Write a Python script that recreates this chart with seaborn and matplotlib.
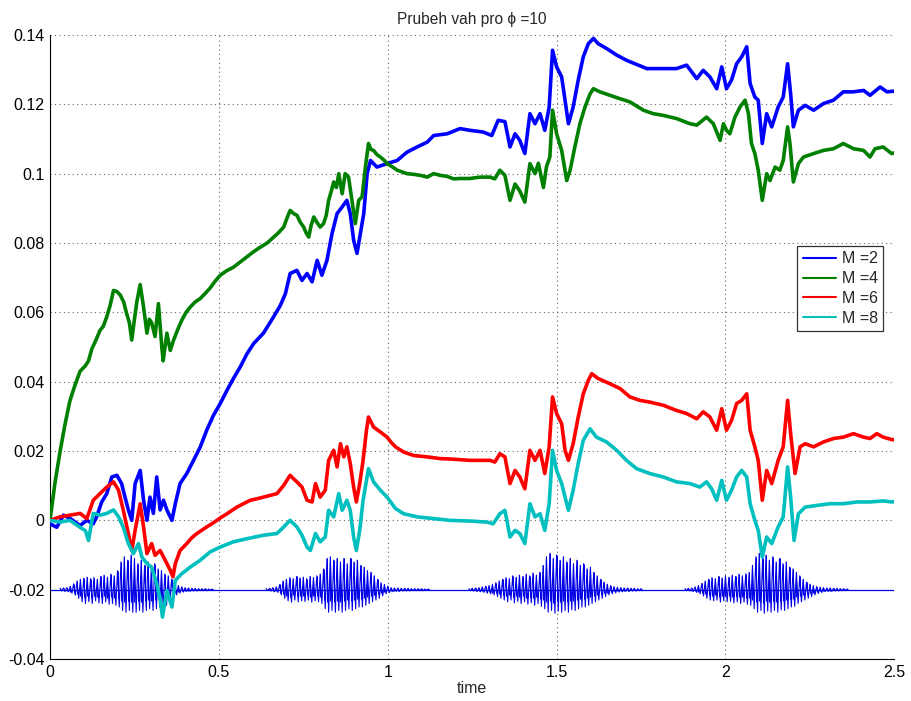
import numpy as np
import pandas as pd
import matplotlib
matplotlib.use("Agg")
import matplotlib.pyplot as plt
import seaborn as sns
from matplotlib.lines import Line2D

# ---------------- data ----------------
m2_points = [(0, -0.001), (0.02, -0.002), (0.04, 0.0015), (0.06, 0.0005), (0.089, -0.0015), (0.109, 0.0),
             (0.128, -0.001), (0.138, 0.001), (0.153, 0.0053), (0.168, 0.0077), (0.183, 0.0125), (0.198, 0.013),
             (0.212, 0.0106), (0.222, 0.0067), (0.232, 0.003), (0.242, 0.0), (0.252, 0.0106), (0.267, 0.0144),
             (0.277, 0.0058), (0.287, 0.0), (0.296, 0.0067), (0.306, 0.002), (0.316, 0.0125), (0.326, 0.003),
             (0.336, 0.0058), (0.346, 0.003), (0.361, 0.0), (0.371, 0.0048), (0.385, 0.0106), (0.405, 0.0135),
             (0.425, 0.0173), (0.445, 0.0212), (0.464, 0.026), (0.484, 0.0303), (0.504, 0.0337), (0.524, 0.0375),
             (0.543, 0.0409), (0.563, 0.0442), (0.583, 0.048), (0.603, 0.051), (0.632, 0.054), (0.662, 0.0587),
             (0.682, 0.062), (0.697, 0.0654), (0.711, 0.0712), (0.731, 0.0721), (0.746, 0.0692), (0.761, 0.0712),
             (0.776, 0.0688), (0.791, 0.075), (0.805, 0.0707), (0.820, 0.075), (0.835, 0.0827), (0.850, 0.0885),
             (0.865, 0.0904), (0.879, 0.0923), (0.889, 0.0885), (0.899, 0.0808), (0.909, 0.077), (0.919, 0.0827),
             (0.929, 0.0885), (0.939, 0.100), (0.949, 0.1038), (0.968, 0.1019), (0.998, 0.1029), (1.028, 0.1038),
             (1.057, 0.1062), (1.087, 0.1077), (1.117, 0.1091), (1.136, 0.111), (1.176, 0.1115), (1.214, 0.113),
             (1.243, 0.1125), (1.283, 0.112), (1.308, 0.111), (1.327, 0.1154), (1.347, 0.115), (1.362, 0.1077),
             (1.377, 0.1115), (1.391, 0.1096), (1.406, 0.1058), (1.421, 0.1173), (1.436, 0.1144), (1.451, 0.1173),
             (1.465, 0.1125), (1.478, 0.1192), (1.488, 0.1356), (1.500, 0.1308), (1.515, 0.1279), (1.525, 0.1212),
             (1.535, 0.1144), (1.549, 0.1192), (1.564, 0.127), (1.579, 0.1337), (1.594, 0.1375), (1.609, 0.139),
             (1.623, 0.1375), (1.648, 0.1361), (1.678, 0.1342), (1.707, 0.1327), (1.732, 0.1317), (1.767, 0.1303),
             (1.796, 0.1303), (1.826, 0.1303), (1.855, 0.1303), (1.885, 0.1313), (1.915, 0.1274), (1.934, 0.1298),
             (1.954, 0.1279), (1.974, 0.1245), (1.989, 0.1308), (2.003, 0.1245), (2.018, 0.127), (2.033, 0.1317),
             (2.048, 0.1337), (2.063, 0.1366), (2.073, 0.126), (2.087, 0.1221), (2.097, 0.1212), (2.109, 0.1087),
             (2.122, 0.1173), (2.137, 0.1135), (2.156, 0.1192), (2.171, 0.1221), (2.184, 0.1317), (2.193, 0.123),
             (2.201, 0.1135), (2.216, 0.1183), (2.236, 0.1197), (2.261, 0.1183), (2.290, 0.1202), (2.320, 0.1212),
             (2.349, 0.1236), (2.379, 0.1236), (2.409, 0.124), (2.428, 0.1226), (2.458, 0.125), (2.478, 0.1236),
             (2.5, 0.1238)]

m4_points = [(0, 0), (0.015, 0.011), (0.03, 0.02), (0.045, 0.028), (0.059, 0.0345), (0.074, 0.039), (0.089, 0.043),
             (0.104, 0.0445), (0.114, 0.046), (0.124, 0.0495), (0.136, 0.052), (0.148, 0.0548), (0.158, 0.056),
             (0.168, 0.0587), (0.178, 0.062), (0.188, 0.0663), (0.198, 0.066), (0.208, 0.065), (0.218, 0.063),
             (0.227, 0.0596), (0.235, 0.057), (0.242, 0.052), (0.250, 0.058), (0.257, 0.063), (0.267, 0.068),
             (0.277, 0.0615), (0.287, 0.054), (0.294, 0.058), (0.301, 0.057), (0.311, 0.053), (0.321, 0.0625),
             (0.331, 0.050), (0.335, 0.046), (0.346, 0.054), (0.356, 0.049), (0.366, 0.052), (0.378, 0.055),
             (0.390, 0.0577), (0.403, 0.060), (0.415, 0.0615), (0.430, 0.063), (0.445, 0.064), (0.460, 0.0655),
             (0.474, 0.067), (0.489, 0.069), (0.504, 0.0707), (0.523, 0.072), (0.543, 0.073), (0.563, 0.0745),
             (0.583, 0.076), (0.603, 0.0775), (0.623, 0.0788), (0.643, 0.080), (0.662, 0.0817), (0.677, 0.083),
             (0.692, 0.0846), (0.701, 0.087), (0.711, 0.0894), (0.721, 0.0885), (0.731, 0.088), (0.741, 0.086),
             (0.751, 0.0846), (0.758, 0.083), (0.766, 0.0817), (0.773, 0.085), (0.781, 0.0875), (0.790, 0.086),
             (0.800, 0.0846), (0.810, 0.0856), (0.818, 0.088), (0.825, 0.0923), (0.833, 0.095), (0.840, 0.0976),
             (0.848, 0.096), (0.855, 0.100), (0.865, 0.0942), (0.874, 0.100), (0.884, 0.099), (0.894, 0.0923),
             (0.904, 0.0856), (0.914, 0.0923), (0.924, 0.0933), (0.934, 0.102), (0.943, 0.1087), (0.950, 0.107),
             (0.958, 0.1067), (0.968, 0.1055), (0.978, 0.1048), (0.988, 0.104), (0.998, 0.1029), (1.013, 0.102),
             (1.028, 0.101), (1.043, 0.1005), (1.057, 0.100), (1.077, 0.0998), (1.097, 0.0995), (1.117, 0.099),
             (1.136, 0.100), (1.156, 0.0995), (1.176, 0.0992), (1.195, 0.0985), (1.215, 0.0986), (1.243, 0.0986),
             (1.273, 0.099), (1.303, 0.099), (1.317, 0.0985), (1.332, 0.101), (1.347, 0.0995), (1.362, 0.0923),
             (1.377, 0.097), (1.391, 0.095), (1.406, 0.0918), (1.421, 0.1029), (1.436, 0.100), (1.446, 0.103),
             (1.461, 0.096), (1.470, 0.102), (1.480, 0.1048), (1.488, 0.1183), (1.500, 0.1115), (1.515, 0.1067),
             (1.530, 0.098), (1.540, 0.101), (1.554, 0.1077), (1.569, 0.1144), (1.584, 0.1192), (1.599, 0.123),
             (1.609, 0.1245), (1.628, 0.1236), (1.658, 0.1226), (1.688, 0.1216), (1.717, 0.1207), (1.757, 0.1183),
             (1.786, 0.1173), (1.816, 0.1168), (1.855, 0.1159), (1.895, 0.1144), (1.915, 0.114), (1.944, 0.1163),
             (1.964, 0.1144), (1.974, 0.112), (1.984, 0.1096), (1.994, 0.1144), (2.003, 0.1125), (2.013, 0.1115),
             (2.028, 0.1163), (2.043, 0.1192), (2.058, 0.1212), (2.068, 0.1173), (2.077, 0.1087), (2.087, 0.1058),
             (2.097, 0.101), (2.109, 0.0923), (2.122, 0.100), (2.132, 0.098), (2.147, 0.1019), (2.161, 0.101),
             (2.171, 0.1038), (2.184, 0.1135), (2.191, 0.1087), (2.201, 0.0976), (2.216, 0.1029), (2.231, 0.1048),
             (2.261, 0.1058), (2.290, 0.1067), (2.320, 0.1072), (2.349, 0.1087), (2.379, 0.1072), (2.409, 0.1067),
             (2.428, 0.1048), (2.443, 0.1072), (2.467, 0.1077), (2.492, 0.1058), (2.5, 0.106)]

m6_points = [(0, 0), (0.03, 0.001), (0.059, 0.0015), (0.089, 0.002), (0.109, 0.0005), (0.118, 0.003), (0.128, 0.0058),
             (0.148, 0.0077), (0.168, 0.0096), (0.188, 0.0111), (0.203, 0.0087), (0.217, 0.0029), (0.232, -0.0038),
             (0.242, -0.0087), (0.252, -0.0029), (0.267, 0.0048), (0.277, -0.0019), (0.287, -0.0096), (0.301, -0.0067),
             (0.311, -0.0101), (0.326, -0.0087), (0.341, -0.0115), (0.356, -0.0144), (0.364, -0.0163), (0.371, -0.0125),
             (0.385, -0.0087), (0.405, -0.0067), (0.420, -0.005), (0.435, -0.0038), (0.450, -0.0028), (0.464, -0.0019),
             (0.479, -0.001), (0.494, 0.0), (0.509, 0.001), (0.524, 0.0019), (0.538, 0.0028), (0.553, 0.0038),
             (0.573, 0.0048), (0.593, 0.0058), (0.612, 0.0062), (0.632, 0.0067), (0.652, 0.0072), (0.672, 0.0077),
             (0.692, 0.0101), (0.711, 0.013), (0.721, 0.012), (0.731, 0.0111), (0.746, 0.0096), (0.761, 0.0058),
             (0.776, 0.0053), (0.786, 0.0106), (0.800, 0.0067), (0.815, 0.0087), (0.825, 0.0173), (0.840, 0.0202),
             (0.850, 0.0154), (0.860, 0.0221), (0.870, 0.0183), (0.879, 0.0212), (0.889, 0.0164), (0.899, 0.0096),
             (0.907, 0.0053), (0.917, 0.0106), (0.927, 0.0173), (0.937, 0.026), (0.943, 0.0298), (0.958, 0.0269),
             (0.978, 0.0255), (0.998, 0.024), (1.010, 0.0225), (1.023, 0.0212), (1.047, 0.0197), (1.077, 0.0187),
             (1.117, 0.0183), (1.156, 0.0178), (1.184, 0.0177), (1.243, 0.0173), (1.303, 0.0173), (1.317, 0.0168),
             (1.332, 0.0192), (1.347, 0.0183), (1.362, 0.0106), (1.377, 0.0144), (1.391, 0.0125), (1.406, 0.0091),
             (1.421, 0.0202), (1.436, 0.0173), (1.451, 0.0202), (1.465, 0.0135), (1.478, 0.0212), (1.488, 0.0356),
             (1.500, 0.0308), (1.515, 0.0279), (1.525, 0.0202), (1.535, 0.0173), (1.549, 0.0221), (1.564, 0.0298),
             (1.579, 0.0365), (1.594, 0.0404), (1.604, 0.0423), (1.623, 0.0409), (1.658, 0.0394), (1.688, 0.038),
             (1.717, 0.0356), (1.747, 0.0346), (1.776, 0.0341), (1.816, 0.0332), (1.855, 0.0317), (1.885, 0.0308),
             (1.915, 0.0293), (1.934, 0.0313), (1.954, 0.0298), (1.974, 0.026), (1.989, 0.0322), (2.003, 0.026),
             (2.018, 0.0288), (2.033, 0.0337), (2.048, 0.0346), (2.063, 0.0365), (2.073, 0.026), (2.087, 0.0212),
             (2.097, 0.0173), (2.109, 0.0058), (2.122, 0.0144), (2.137, 0.0106), (2.156, 0.0173), (2.171, 0.0212),
             (2.184, 0.0346), (2.193, 0.025), (2.206, 0.0135), (2.221, 0.0212), (2.236, 0.0221), (2.261, 0.0212),
             (2.290, 0.0226), (2.320, 0.0236), (2.349, 0.024), (2.379, 0.025), (2.409, 0.024), (2.428, 0.0236),
             (2.448, 0.025), (2.467, 0.024), (2.492, 0.0233), (2.5, 0.0232)]

m8_points = [(0, 0), (0.03, -0.0005), (0.059, 0.0), (0.089, -0.002), (0.105, -0.003), (0.114, -0.0058), (0.128, 0.002),
             (0.148, 0.0015), (0.168, 0.002), (0.188, 0.003), (0.203, 0.001), (0.217, -0.002), (0.232, -0.0067),
             (0.247, -0.0096), (0.262, -0.0067), (0.272, -0.0106), (0.287, -0.0125), (0.301, -0.0135), (0.316, -0.0183),
             (0.325, -0.022), (0.333, -0.0279), (0.346, -0.0202), (0.361, -0.025), (0.371, -0.0173), (0.390, -0.0154),
             (0.415, -0.0135), (0.445, -0.0115), (0.474, -0.0091), (0.504, -0.0077), (0.543, -0.0062), (0.583, -0.0053),
             (0.632, -0.0043), (0.672, -0.0038), (0.692, -0.0019), (0.711, 0.0), (0.731, -0.0019), (0.746, -0.0043),
             (0.761, -0.0077), (0.771, -0.0087), (0.786, -0.0038), (0.800, -0.0062), (0.815, -0.0048), (0.825, 0.0029),
             (0.840, 0.001), (0.855, 0.0077), (0.865, 0.0029), (0.879, 0.0058), (0.889, 0.0029), (0.899, -0.0048),
             (0.907, -0.0087), (0.917, -0.0029), (0.927, 0.0058), (0.937, 0.0115), (0.943, 0.0149), (0.958, 0.0111),
             (0.978, 0.0087), (0.998, 0.0067), (1.023, 0.0034), (1.047, 0.0019), (1.087, 0.001), (1.136, 0.0005),
             (1.184, 0.0), (1.243, -0.0002), (1.293, -0.0005), (1.312, -0.001), (1.332, 0.0019), (1.347, 0.0029),
             (1.362, -0.0048), (1.377, -0.0029), (1.391, -0.0038), (1.406, -0.0067), (1.421, 0.0048), (1.436, 0.001),
             (1.451, 0.0019), (1.465, -0.0029), (1.478, 0.0048), (1.488, 0.0202), (1.500, 0.0144), (1.515, 0.0106),
             (1.525, 0.0067), (1.535, 0.0029), (1.549, 0.0087), (1.564, 0.0164), (1.579, 0.0231), (1.599, 0.0264),
             (1.618, 0.024), (1.648, 0.0226), (1.678, 0.0202), (1.707, 0.0173), (1.737, 0.0149), (1.776, 0.0135),
             (1.816, 0.0125), (1.855, 0.0111), (1.895, 0.0106), (1.924, 0.0096), (1.944, 0.0111), (1.959, 0.0091),
             (1.974, 0.0058), (1.989, 0.0115), (2.003, 0.0058), (2.018, 0.0087), (2.033, 0.0125), (2.048, 0.0144),
             (2.063, 0.0125), (2.073, 0.0048), (2.087, 0.0), (2.097, -0.0029), (2.109, -0.0106), (2.122, -0.0048),
             (2.137, -0.0067), (2.156, -0.0019), (2.171, 0.001), (2.184, 0.0154), (2.193, 0.0067), (2.203, -0.0058),
             (2.216, 0.0019), (2.236, 0.0038), (2.270, 0.0043), (2.310, 0.0048), (2.349, 0.0048), (2.389, 0.0053),
             (2.428, 0.0053), (2.467, 0.0056), (2.492, 0.0053), (2.5, 0.0054)]

series_labels = ["M =2", "M =4", "M =6", "M =8"]
series_colors = ["#0000ff", "#008000", "#ff0000", "#00bfbf"]

# speech-like signal drawn at offset level; peak (up) and trough (down) amplitudes in units of 1e-3
signal_level = -0.02
signal_span = [0.0, 2.5]
signal_step = 0.01
burst_starts = [0.03, 0.64, 1.24, 1.88]
burst_up = [
    [0.4, 0.5, 0.6, 1.0, 1.7, 2.5, 3.0, 3.3, 3.6, 3.2, 3.5, 3.0, 3.8, 4.2, 3.6, 4.5, 4.0, 5.5, 8.0, 9.5, 8.5, 10.0,
     9.0, 7.5, 8.5, 7.0, 8.0, 6.5, 7.5, 6.0, 5.5, 4.5, 4.0, 3.0, 2.0, 1.2, 0.8, 0.6, 0.5, 0.4, 0.4, 0.3, 0.3, 0.3,
     0.2, 0.2],
    [0.3, 0.4, 0.6, 0.8, 1.5, 2.5, 3.0, 3.5, 3.2, 3.8, 3.4, 3.6, 3.2, 3.8, 3.5, 4.0, 4.5, 6.0, 9.0, 9.5, 8.5, 9.0,
     8.0, 9.0, 7.5, 9.0, 8.0, 8.5, 7.0, 6.5, 5.5, 5.0, 4.0, 3.0, 2.0, 1.5, 1.0, 0.6, 0.5, 0.5, 0.4, 0.4, 0.4, 0.3,
     0.3, 0.3, 0.3, 0.2, 0.2],
    [0.3, 0.4, 0.5, 0.6, 0.8, 1.0, 1.2, 1.5, 2.0, 2.5, 3.0, 3.5, 3.2, 4.0, 3.6, 4.2, 3.8, 4.5, 4.0, 4.8, 4.2, 5.0,
     7.0, 9.5, 10.5, 9.0, 10.0, 8.5, 9.5, 8.0, 9.0, 7.5, 8.5, 7.0, 7.5, 6.0, 6.5, 5.0, 4.0, 3.0, 2.2, 1.6, 1.2, 0.9,
     0.7, 0.6, 0.5, 0.5, 0.4, 0.4, 0.3, 0.3],
    [0.3, 0.4, 0.5, 0.8, 1.2, 1.8, 2.5, 3.0, 3.5, 3.2, 3.8, 3.4, 4.0, 3.6, 4.2, 3.8, 4.5, 4.0, 4.6, 5.0, 7.0, 9.5,
     10.5, 9.0, 10.0, 8.5, 9.5, 8.0, 9.0, 7.5, 8.0, 6.5, 6.0, 5.0, 4.0, 3.0, 2.2, 1.6, 1.2, 0.9, 0.7, 0.6, 0.5, 0.5,
     0.4, 0.4, 0.3, 0.3, 0.2],
]
burst_down = [
    [0.4, 0.5, 0.6, 1.0, 1.6, 2.5, 3.5, 4.0, 3.5, 4.0, 3.2, 3.8, 4.0, 3.5, 4.2, 4.0, 4.5, 5.0, 6.0, 6.5, 6.0, 6.5,
     6.5, 6.0, 6.5, 6.0, 5.5, 6.0, 5.5, 5.0, 5.0, 4.5, 3.5, 2.5, 1.5, 1.0, 0.7, 0.5, 0.5, 0.4, 0.4, 0.3, 0.3, 0.3,
     0.2, 0.2],
    [0.3, 0.4, 0.6, 0.8, 1.5, 2.5, 3.2, 3.6, 3.0, 3.5, 3.2, 3.4, 3.0, 3.6, 3.2, 3.5, 4.0, 5.5, 6.5, 6.0, 6.5, 6.0,
     6.5, 6.0, 5.5, 6.0, 5.5, 5.0, 5.0, 4.5, 4.0, 3.5, 3.0, 2.5, 1.8, 1.2, 0.8, 0.6, 0.5, 0.5, 0.4, 0.4, 0.4, 0.3,
     0.3, 0.3, 0.3, 0.2, 0.2],
    [0.3, 0.4, 0.5, 0.6, 0.8, 1.0, 1.2, 1.5, 2.0, 2.5, 3.0, 3.5, 3.0, 3.8, 3.4, 4.0, 3.5, 4.2, 3.8, 4.5, 4.0, 4.8,
     5.5, 6.5, 6.0, 6.8, 6.2, 6.5, 6.0, 6.5, 5.8, 6.0, 5.5, 5.0, 5.0, 4.5, 4.0, 3.5, 3.0, 2.5, 2.0, 1.5, 1.2, 0.9,
     0.7, 0.6, 0.5, 0.5, 0.4, 0.4, 0.3, 0.3],
    [0.3, 0.4, 0.5, 0.8, 1.2, 1.8, 2.5, 3.0, 3.2, 3.0, 3.6, 3.2, 3.5, 3.4, 3.8, 3.5, 4.0, 3.6, 4.2, 4.5, 5.5, 6.5,
     6.0, 6.8, 6.2, 6.5, 6.0, 6.5, 5.8, 6.0, 5.5, 5.0, 4.8, 4.0, 3.5, 3.0, 2.5, 2.0, 1.5, 1.1, 0.8, 0.6, 0.5, 0.5,
     0.4, 0.4, 0.3, 0.3, 0.2],
]

x_ticks = [0, 0.5, 1, 1.5, 2, 2.5]
x_ticklabels = ["0", "0.5", "1", "1.5", "2", "2.5"]
y_ticks = [-0.04, -0.02, 0, 0.02, 0.04, 0.06, 0.08, 0.1, 0.12, 0.14]
y_ticklabels = ["-0.04", "-0.02", "0", "0.02", "0.04", "0.06", "0.08", "0.1", "0.12", "0.14"]
title_text = "Prubeh vah pro ϕ =10"
x_label = "time"

# ---------------- figure ----------------
sns.set_style("white")
plt.rcParams["font.family"] = ["Liberation Sans", "DejaVu Sans"]

fig = plt.figure(figsize=(9.11, 7.01), dpi=100)
ax = fig.add_axes([0.0549, 0.0599, 0.9268, 0.8902])

sig_color = "#0000e6"
# signal: baseline plus oscillating bursts (peak then trough within each sample period)
ax.plot(signal_span, [signal_level, signal_level], color=sig_color, linewidth=0.9, zorder=2)
for start, up, down in zip(burst_starts, burst_up, burst_down):
    up = np.array(up) * 1e-3
    down = np.array(down) * 1e-3
    t = start + signal_step * np.arange(len(up))
    tx = np.column_stack([t, t + signal_step / 2]).ravel()
    vy = np.column_stack([signal_level + up, signal_level - down]).ravel()
    ax.plot(tx, vy, color=sig_color, linewidth=0.8, zorder=2)
    ax.vlines(t, signal_level - down * 0.55, signal_level + up, color=sig_color, linewidth=0.7, zorder=2)

frames = []
for lab, pts in zip(series_labels, [m2_points, m4_points, m6_points, m8_points]):
    d = pd.DataFrame(pts, columns=["time", "value"])
    d["series"] = lab
    frames.append(d)
df = pd.concat(frames, ignore_index=True)

sns.lineplot(data=df, x="time", y="value", hue="series", hue_order=series_labels,
             palette=dict(zip(series_labels, series_colors)), estimator=None, sort=False,
             linewidth=2.6, ax=ax, zorder=3, legend=False)

handles = [Line2D([0], [0], color=c, linewidth=1.5) for c in series_colors]
leg = ax.legend(handles, series_labels, loc="upper right", bbox_to_anchor=(0.987, 0.662),
                borderaxespad=0, fancybox=False, frameon=True, fontsize=11.5,
                handlelength=2.1, handletextpad=0.35, labelspacing=0.3, borderpad=0.35)
leg.get_frame().set_edgecolor("black")
leg.get_frame().set_linewidth(0.9)

ax.set_xlim(0, 2.5)
ax.set_ylim(-0.04, 0.14)
ax.set_xticks(x_ticks)
ax.set_xticklabels(x_ticklabels)
ax.set_yticks(y_ticks)
ax.set_yticklabels(y_ticklabels)
ax.tick_params(direction="in", length=8, width=0.8, labelsize=11.5, pad=4, colors="black")
ax.grid(True, linestyle=(0, (1, 3)), color="#666666", linewidth=0.8)
ax.set_axisbelow(True)
for s in ["top", "right"]:
    ax.spines[s].set_visible(False)
for s in ["left", "bottom"]:
    ax.spines[s].set_color("black")
    ax.spines[s].set_linewidth(0.8)
ax.set_xlabel(x_label, fontsize=11.5, labelpad=1)
ax.set_ylabel("")
ax.set_title(title_text, fontsize=11.2, pad=8)

fig.savefig("out.png", dpi=100)
